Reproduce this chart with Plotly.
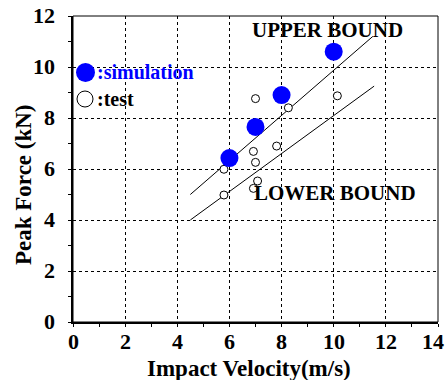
import plotly.graph_objects as go

sim_x = [6, 7, 8, 10]
sim_y = [6.43, 7.65, 8.9, 10.6]

test_x = [5.79, 5.79, 6.92, 7.0, 7.08, 6.92, 7.0, 7.81, 8.26, 10.14]
test_y = [4.98, 5.99, 5.24, 6.26, 5.53, 6.69, 8.76, 6.90, 8.40, 8.87]

upper_x = [4.5, 11.5]
upper_y = [5.0, 11.2]
lower_x = [4.5, 11.55]
lower_y = [4.0, 9.25]

x_ticks = [0, 2, 4, 6, 8, 10, 12, 14]
y_ticks = [0, 2, 4, 6, 8, 10, 12]

FONT = "Liberation Serif"

fig = go.Figure()
fig.add_trace(go.Scatter(x=upper_x, y=upper_y, mode="lines",
                         line=dict(color="black", width=1), showlegend=False))
fig.add_trace(go.Scatter(x=lower_x, y=lower_y, mode="lines",
                         line=dict(color="black", width=1), showlegend=False))
fig.add_trace(go.Scatter(x=test_x, y=test_y, mode="markers",
                         marker=dict(size=8, color="white", line=dict(color="black", width=1)),
                         showlegend=False))
fig.add_trace(go.Scatter(x=sim_x, y=sim_y, mode="markers",
                         marker=dict(size=18, color="#0000ff", line=dict(width=0)),
                         showlegend=False))

axis_common = dict(
    showgrid=True, gridcolor="black", gridwidth=1, griddash="dot",
    showline=True, linecolor="black", linewidth=2,
    ticks="outside", ticklen=3, tickwidth=1, tickcolor="black",
    minor=dict(ticks="outside", ticklen=3, tickwidth=1, tickcolor="black", dtick=1, showgrid=False),
    showticklabels=False,
    automargin=False,
    zeroline=False,
)

fig.update_xaxes(range=[0, 14], tickvals=x_ticks, **axis_common)
fig.update_yaxes(range=[0, 12], tickvals=y_ticks, **axis_common)

# bold tick labels placed at the axis tick values
for i, v in enumerate(x_ticks):
    fig.add_annotation(text=f"<b>{v}</b>", x=v, xref="x", y=0, yref="paper",
                       xanchor="center", yanchor="middle", yshift=-19,
                       xshift=-5 if i == len(x_ticks) - 1 else 0,
                       showarrow=False, font=dict(family=FONT, size=22, color="black"))
for v in y_ticks:
    fig.add_annotation(text=f"<b>{v}</b>", x=0, xref="paper", y=v, yref="y",
                       xanchor="right", yanchor="middle", xshift=-16, yshift=1,
                       showarrow=False, font=dict(family=FONT, size=22, color="black"))

# axis titles
fig.add_annotation(text="<b>Impact Velocity(m/s)</b>", xref="paper", yref="paper",
                   x=(249 - 73) / 365, y=0, yshift=-46,
                   xanchor="center", yanchor="middle", showarrow=False,
                   font=dict(family=FONT, size=23, color="black"))
fig.add_annotation(text="<b>Peak Force (kN)</b>", xref="paper", yref="paper",
                   x=(23 - 73) / 365, y=(322 - 185) / 306, textangle=-90,
                   xanchor="center", yanchor="middle", showarrow=False,
                   font=dict(family=FONT, size=23, color="black"))

# frame
fig.add_shape(type="rect", xref="paper", yref="paper", x0=0, y0=0, x1=1, y1=1,
              line=dict(color="black", width=1), layer="above")

# legend (drawn manually)
fig.add_shape(type="circle", xref="paper", yref="paper",
              x0=(76 - 73) / 365, x1=(95 - 73) / 365,
              y0=(322 - 82) / 306, y1=(322 - 63) / 306,
              fillcolor="#0000ff", line=dict(width=0))
fig.add_shape(type="circle", xref="paper", yref="paper",
              x0=(77 - 73) / 365, x1=(93 - 73) / 365,
              y0=(322 - 107) / 306, y1=(322 - 91) / 306,
              fillcolor="white", line=dict(color="black", width=1))
fig.add_annotation(text="<b>:simulation</b>", xref="paper", yref="paper",
                   x=(95 - 73) / 365, y=(322 - 72) / 306, xanchor="left", yanchor="middle",
                   showarrow=False, font=dict(family=FONT, size=20, color="#0000ff"))
fig.add_annotation(text="<b>:test</b>", xref="paper", yref="paper",
                   x=(95 - 73) / 365, y=(322 - 99) / 306, xanchor="left", yanchor="middle",
                   showarrow=False, font=dict(family=FONT, size=20, color="black"))

fig.add_annotation(text="<b>UPPER BOUND</b>", x=9.75, y=11.45, showarrow=False,
                   font=dict(family=FONT, size=21, color="black"))
fig.add_annotation(text="<b>LOWER BOUND</b>", x=10.05, y=5.06, showarrow=False,
                   font=dict(family=FONT, size=21, color="black"))

fig.update_layout(
    width=448, height=380,
    margin=dict(l=73, r=10, t=16, b=58),
    paper_bgcolor="white", plot_bgcolor="white",
    font=dict(family=FONT, color="black"),
)

fig.write_html("out.html")
